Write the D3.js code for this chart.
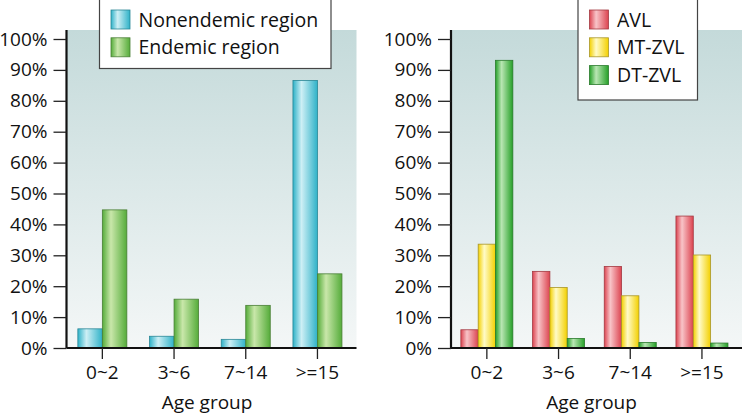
<!DOCTYPE html>
<html><head><meta charset="utf-8">
<script src="https://cdn.jsdelivr.net/npm/d3@7/dist/d3.min.js"></script>
<style>
html,body{margin:0;padding:0;background:#fff;}
svg{display:block;font-family:"Open Sans","Noto Sans",sans-serif;}
</style></head>
<body>
<svg id="chart" width="742" height="415"></svg>
<script>
const categories = ["0~2", "3~6", "7~14", ">=15"];
const yTicks = [0, 10, 20, 30, 40, 50, 60, 70, 80, 90, 100];
const leftSeriesNames = ["Nonendemic region", "Endemic region"];
const nonendemic = [6.2, 3.8, 2.8, 86.6];
const endemic = [44.7, 15.8, 13.8, 24.0];
const rightSeriesNames = ["AVL", "MT-ZVL", "DT-ZVL"];
const avl = [5.9, 24.8, 26.4, 42.7];
const mtzvl = [33.6, 19.6, 16.9, 30.1];
const dtzvl = [93.1, 3.1, 1.8, 1.6];
const xTitle = "Age group";

const svg = d3.select("#chart");
const defs = svg.append("defs");

const bg = defs.append("linearGradient").attr("id","bg").attr("x1",0).attr("y1",0).attr("x2",0).attr("y2",1);
bg.append("stop").attr("offset","0%").attr("stop-color","#c4dada");
bg.append("stop").attr("offset","100%").attr("stop-color","#f4f7f7");

function barGrad(id, edge, light, stroke){
  const g = defs.append("linearGradient").attr("id",id).attr("x1",0).attr("y1",0).attr("x2",1).attr("y2",0);
  g.append("stop").attr("offset","0%").attr("stop-color",edge);
  g.append("stop").attr("offset","35%").attr("stop-color",light);
  g.append("stop").attr("offset","100%").attr("stop-color",edge);
  return {fill:`url(#${id})`, stroke};
}
const cCyan = barGrad("gCyan","#2fb2c8","#cdeff5","#2a8796");
const cGreen = barGrad("gGreen","#55ac3a","#c9e7aa","#4a7f36");
const cRed = barGrad("gRed","#dc4450","#f8c4c8","#a33a42");
const cYellow = barGrad("gYellow","#f3d000","#fffbc8","#a8962a");
const cDT = barGrad("gDT","#26a028","#b9e6b3","#2a7a2c");

const FS = 19;
const y = d3.scaleLinear().domain([0,100]).range([348, 39]);

function panel(opts){
  const g = svg.append("g");
  const x = d3.scaleBand().domain(categories).range([opts.x0, opts.x0 + 286.8]);
  const xs = d3.scaleBand().domain(opts.series.map((s,i)=>i)).range([0, opts.groupW]);
  g.append("rect").attr("x", opts.x0).attr("y", 30).attr("width", opts.bgW).attr("height", 348-30)
    .attr("fill","url(#bg)");
  opts.series.forEach((s,i)=>{
    g.selectAll(null).data(s.values).enter().append("rect")
      .attr("x",(d,j)=> x(categories[j]) + x.bandwidth()/2 - opts.groupW/2 + xs(i))
      .attr("y", d=> y(d))
      .attr("width", xs.bandwidth())
      .attr("height", d=> y(0)-y(d))
      .attr("fill", s.color.fill).attr("stroke", s.color.stroke).attr("stroke-width",0.8);
  });
  const ya = g.append("g").attr("transform",`translate(${opts.x0},0)`)
    .call(d3.axisLeft(y).tickValues(yTicks).tickFormat(d=>d+"%").tickSize(13).tickPadding(6));
  ya.attr("font-size",FS).attr("font-family","'Open Sans',sans-serif");
  ya.select(".domain").attr("d", `M0,30V348`).attr("stroke","#111").attr("stroke-width",2.2);
  ya.selectAll(".tick line").attr("stroke","#222").attr("stroke-width",1.3);
  ya.selectAll(".tick text").attr("fill","#111");
  const xa = g.append("g").attr("transform",`translate(0,348)`)
    .call(d3.axisBottom(x).tickSize(11).tickPadding(7));
  xa.attr("font-size",FS).attr("font-family","'Open Sans',sans-serif");
  xa.select(".domain").attr("d", `M${opts.x0},0H${opts.x0+opts.bgW}`).attr("stroke","#111").attr("stroke-width",2.2);
  xa.selectAll(".tick line").attr("stroke","#222").attr("stroke-width",1.3);
  xa.selectAll(".tick text").attr("fill","#111");
  g.append("text").attr("x", opts.x0 + 140.5).attr("y", 409).attr("text-anchor","middle")
    .attr("font-size",FS).attr("fill","#111").text(xTitle);
  const L = opts.legend;
  g.append("rect").attr("x",L.x).attr("y",-2).attr("width",L.w).attr("height",L.h+2)
    .attr("fill","#fff").attr("stroke","#444").attr("stroke-width",1.2);
  opts.series.forEach((s,i)=>{
    const yy = 10 + i*27.8;
    g.append("rect").attr("x",L.x+11.5).attr("y",yy).attr("width",19).attr("height",19)
      .attr("fill",s.color.fill).attr("stroke",s.color.stroke).attr("stroke-width",0.8);
    g.append("text").attr("x",L.x+39).attr("y",yy+16.5).attr("font-size",19.5).attr("fill","#111").text(s.name);
  });
}

panel({x0:66.5, bgW:290, groupW:49,
  series:[{name:leftSeriesNames[0], values:nonendemic, color:cCyan},{name:leftSeriesNames[1], values:endemic, color:cGreen}],
  legend:{x:99.5, w:231.5, h:68.5}});
panel({x0:451, bgW:291, groupW:52,
  series:[{name:rightSeriesNames[0], values:avl, color:cRed},{name:rightSeriesNames[1], values:mtzvl, color:cYellow},{name:rightSeriesNames[2], values:dtzvl, color:cDT}],
  legend:{x:578, w:119.5, h:100}});
</script>
</body></html>
